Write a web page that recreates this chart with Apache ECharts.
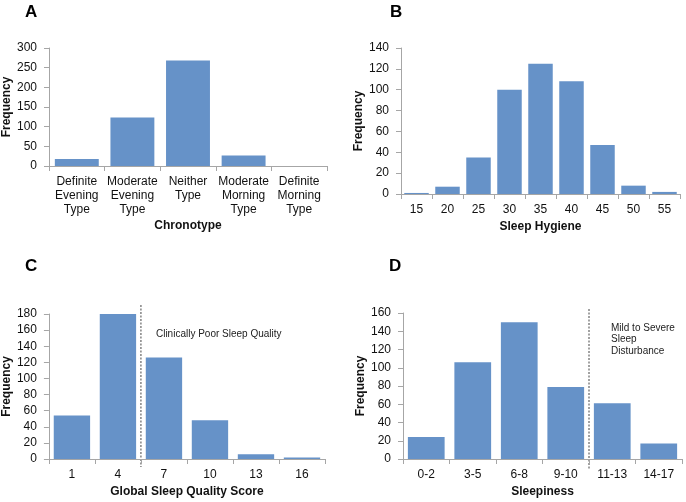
<!DOCTYPE html>
<html>
<head>
<meta charset="utf-8">
<script src="https://cdn.jsdelivr.net/npm/echarts@6/dist/echarts.min.js"></script>
<style>html,body{margin:0;padding:0;background:#fff}#c{width:686px;height:502px}</style>
</head>
<body>
<div id="c"></div>
<script>
const chronoCats = ['Definite\nEvening\nType','Moderate\nEvening\nType','Neither\nType','Moderate\nMorning\nType','Definite\nMorning\nType'];
const chronoFreq = [18, 123, 268, 27, 0];
const hygieneCats = ['15','20','25','30','35','40','45','50','55'];
const hygieneFreq = [1, 7, 35, 100, 125, 108, 47, 8, 2];
const psqiCats = ['1','4','7','10','13','16'];
const psqiFreq = [54, 180, 126, 48, 6, 2];
const sleepCats = ['0-2','3-5','6-8','9-10','11-13','14-17'];
const sleepFreq = [24, 106, 150, 79, 61, 17];
const yMax = [300, 140, 180, 160];
const yStep = [50, 20, 20, 20];
const xNames = ['Chronotype', 'Sleep Hygiene', 'Global Sleep Quality Score', 'Sleepiness'];
const panelLetters = ['A', 'B', 'C', 'D'];
const noteC = 'Clinically Poor Sleep Quality';
const noteD = 'Mild to Severe\nSleep\nDisturbance';

const FONT = 'Liberation Sans, Arial, sans-serif';
const BAR = '#6692c8';
const AXIS = '#a6a6a6';
const TXT = '#111';

const grids = [
  {left: 49, top: 48, width: 278, height: 118},
  {left: 401, top: 48, width: 279, height: 146},
  {left: 48, top: 314, width: 277, height: 145},
  {left: 403, top: 313, width: 279, height: 146}
];
const cats = [chronoCats, hygieneCats, psqiCats, sleepCats];
const vals = [chronoFreq, hygieneFreq, psqiFreq, sleepFreq];
const xNameGap = [54, 27, 27, 27];
const yNameGap = [33, 32, 32, 31];

const chart = echarts.init(document.getElementById('c'), null, {renderer: 'canvas'});
const option = {
  animation: false,
  backgroundColor: '#fff',
  textStyle: {fontFamily: FONT},
  grid: grids.map(g => Object.assign({containLabel: false}, g)),
  xAxis: cats.map((c, i) => ({
    type: 'category', gridIndex: i, data: c,
    name: xNames[i], nameLocation: 'middle', nameGap: xNameGap[i],
    nameTextStyle: {fontFamily: FONT, fontSize: 12, fontWeight: 'bold', color: TXT},
    axisLine: {show: true, lineStyle: {color: AXIS, width: 1}},
    axisTick: {show: true, alignWithLabel: false, length: 5, lineStyle: {color: AXIS}},
    axisLabel: {fontFamily: FONT, fontSize: 12, color: TXT, margin: 9, lineHeight: 14, interval: 0},
    splitLine: {show: false}
  })),
  yAxis: yMax.map((m, i) => ({
    type: 'value', gridIndex: i, min: 0, max: m, interval: yStep[i],
    name: 'Frequency', nameLocation: 'middle', nameGap: yNameGap[i],
    nameTextStyle: {fontFamily: FONT, fontSize: 12, fontWeight: 'bold', color: TXT},
    axisLine: {show: true, lineStyle: {color: AXIS, width: 1}},
    axisTick: {show: true, length: 5, lineStyle: {color: AXIS}},
    axisLabel: {fontFamily: FONT, fontSize: 12, color: TXT, margin: 12},
    splitLine: {show: false}
  })),
  series: vals.map((v, i) => ({
    type: 'bar', xAxisIndex: i, yAxisIndex: i, data: v,
    barCategoryGap: '21%',
    itemStyle: {color: BAR}
  }))
};
chart.setOption(option);

function boundaryX(axisIdx, catsArr, k) {
  const a = chart.convertToPixel({xAxisIndex: axisIdx}, catsArr[k - 1]);
  const b = chart.convertToPixel({xAxisIndex: axisIdx}, catsArr[k]);
  return (a + b) / 2;
}
const xC = boundaryX(2, psqiCats, 2);
const xD = boundaryX(3, sleepCats, 4);
const cTop = chart.convertToPixel({yAxisIndex: 2}, yMax[2]) - 9;
const cBot = chart.convertToPixel({yAxisIndex: 2}, 0) + 8;
const dTop = chart.convertToPixel({yAxisIndex: 3}, yMax[3]) - 4;
const dBot = chart.convertToPixel({yAxisIndex: 3}, 0) + 10;

const letterPos = [[25, 13], [390, 13], [25, 267], [389, 267]];
const graphic = [];
panelLetters.forEach((L, i) => {
  graphic.push({type: 'text', left: letterPos[i][0], top: letterPos[i][1] - 9,
    style: {text: L, font: 'bold 17px ' + FONT, fill: '#000'}});
});
graphic.push({type: 'line', shape: {x1: xC, y1: cTop, x2: xC, y2: cBot},
  style: {stroke: '#444', lineWidth: 1, lineDash: [2, 1.5]}});
graphic.push({type: 'line', shape: {x1: xD, y1: dTop, x2: xD, y2: dBot},
  style: {stroke: '#444', lineWidth: 1, lineDash: [2, 1.5]}});
graphic.push({type: 'text', x: xC + 15, y: 334,
  style: {text: noteC, font: '10px ' + FONT, fill: '#222', textVerticalAlign: 'middle'}});
graphic.push({type: 'text', x: xD + 22, y: 322,
  style: {text: noteD, font: '10px ' + FONT, fill: '#222', lineHeight: 11.5, textVerticalAlign: 'top'}});
chart.setOption({graphic: graphic});
</script>
</body>
</html>
